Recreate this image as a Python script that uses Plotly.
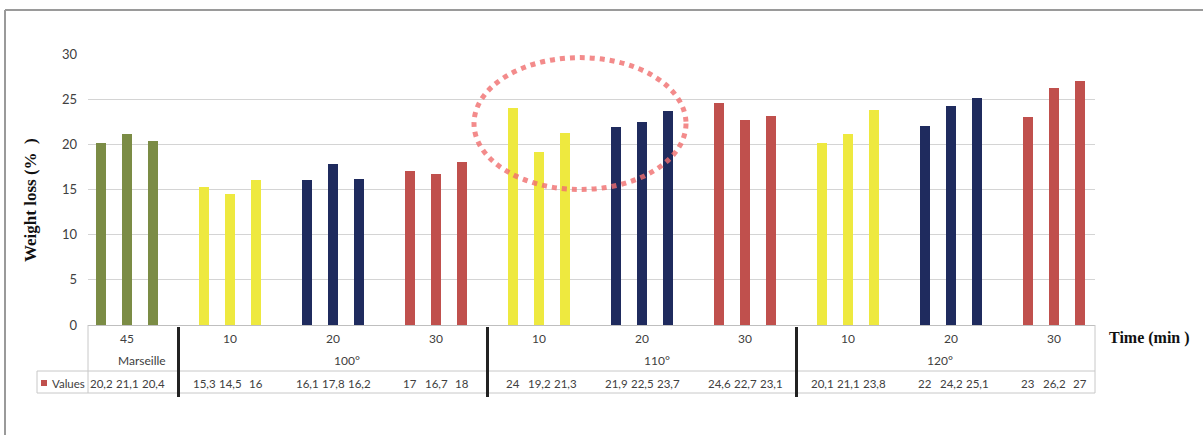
import plotly.graph_objects as go

# ---- data ----
group_times = ["45", "10", "20", "30", "10", "20", "30", "10", "20", "30"]
temp_labels = ["Marseille", "100°", "110°", "120°"]
values = [20.2, 21.1, 20.4,
          15.3, 14.5, 16.0,
          16.1, 17.8, 16.2,
          17.0, 16.7, 18.0,
          24.0, 19.2, 21.3,
          21.9, 22.5, 23.7,
          24.6, 22.7, 23.1,
          20.1, 21.1, 23.8,
          22.0, 24.2, 25.1,
          23.0, 26.2, 27.0]
value_labels = ["20,2", "21,1", "20,4", "15,3", "14,5", "16", "16,1", "17,8", "16,2",
                "17", "16,7", "18", "24", "19,2", "21,3", "21,9", "22,5", "23,7",
                "24,6", "22,7", "23,1", "20,1", "21,1", "23,8", "22", "24,2", "25,1",
                "23", "26,2", "27"]

# ---- styling ----
time_colors = {"45": "#7b8c45", "10": "#eee93f", "20": "#1f2b5e", "30": "#c0504d"}
W, H = 1203, 435
PL, PR, PT, PB = 88, 1095, 54, 325
GROUP_PX = 103.0
G0_PX = 127.0
BAR_OFF = 26.0 / GROUP_PX
BAR_W = 10.5 / GROUP_PX

def dx(px):
    return (px - G0_PX) / GROUP_PX

def py2p(py):
    return (PB - py) / (PB - PT)

def px2p(px):
    return (px - PL) / (PR - PL)

xs, cols = [], []
for g, t in enumerate(group_times):
    for k in range(3):
        xs.append(g + (k - 1) * BAR_OFF)
        cols.append(time_colors[t])

fig = go.Figure()
fig.add_trace(go.Bar(x=xs, y=values, width=BAR_W,
                     marker=dict(color=cols, line=dict(width=0)),
                     hoverinfo="y", showlegend=False))

FONT = "Lato, Carlito, sans-serif"
SERIF = "Liberation Serif, Times New Roman, serif"
txtc = "#404040"
FS = 12

ann = []
def add_text(x, y, text, xref="x", font=None, xanchor="center", **kw):
    ann.append(dict(x=x, y=y, xref=xref, yref="paper", text=text, showarrow=False,
                    xanchor=xanchor, yanchor="middle",
                    font=font or dict(family=FONT, size=FS, color=txtc), **kw))

# row 1: time labels
for g, t in enumerate(group_times):
    add_text(g, py2p(338), t)
# row 2: temperature labels
temp_pos_px = [142, 347, 657, 940]
for lab, p in zip(temp_labels, temp_pos_px):
    add_text(dx(p), py2p(360), lab)
# values row
vfont = dict(family=FONT, size=11.5, color=txtc)
for x, v in zip(xs, value_labels):
    add_text(x, py2p(383), v, font=vfont)
add_text(px2p(50), py2p(383), "Values", xref="paper", font=vfont, xanchor="left")
# axis titles
add_text(px2p(30), py2p(200), "<b>Weight loss (%  )</b>", xref="paper",
         font=dict(family=SERIF, size=17, color="#111111"), textangle=-90)
add_text(px2p(1107), py2p(338), "<b>Time (min )</b>", xref="paper",
         font=dict(family=SERIF, size=16, color="#111111"), xanchor="left")

shapes = []
grey = "#c8c8c8"
def pline(x0, y0, x1, y1, color=grey, width=1):
    shapes.append(dict(type="line", xref="paper", yref="paper",
                       x0=px2p(x0), y0=py2p(y0), x1=px2p(x1), y1=py2p(y1),
                       line=dict(color=color, width=width)))
pline(PL, PB, PL, 393)
pline(PR, PB, PR, 393)
pline(37, 371, PR, 371)
pline(37, 393, PR, 393)
pline(37, 371, 37, 393)
# outer frame
pline(5, 10, 1203, 10, "#9a9a9a", 2)
pline(5, 10, 5, 435, "#9a9a9a", 2)
# legend key
shapes.append(dict(type="rect", xref="paper", yref="paper", x0=px2p(41), x1=px2p(47),
                   y0=py2p(386), y1=py2p(380), fillcolor="#c0504d", line=dict(width=0)))
# thick separators between temperature groups
for b in [0.5, 3.5, 6.5]:
    shapes.append(dict(type="line", xref="x", yref="paper", x0=b, x1=b,
                       y0=py2p(327), y1=py2p(397), line=dict(color="#222222", width=3)))
# highlight ellipse
shapes.append(dict(type="circle", xref="x", yref="y", x0=dx(474), x1=dx(686),
                   y0=15.0, y1=29.6, line=dict(color="rgba(240,110,110,0.8)", width=5, dash="dot")))

fig.update_layout(
    width=W, height=H,
    margin=dict(l=PL, r=W - PR, t=PT, b=H - PB, pad=0),
    paper_bgcolor="white", plot_bgcolor="white",
    bargap=0,
    xaxis=dict(range=[dx(PL), dx(PR)], showticklabels=False, showgrid=False, zeroline=False,
               showline=True, linecolor="#bfbfbf", linewidth=1, ticks=""),
    yaxis=dict(range=[0, 30], tickvals=[0, 5, 10, 15, 20, 25, 30], showgrid=True,
               gridcolor="#d4d4d4", gridwidth=1, zeroline=False, showline=False, ticks="",
               ticklabelstandoff=10,
               tickfont=dict(family=FONT, size=13, color="#404040")),
    annotations=ann, shapes=shapes,
)
fig.write_html("out.html", config={"displayModeBar": False},
               post_script="document.body.style.margin='0';document.body.style.overflow='hidden';")
